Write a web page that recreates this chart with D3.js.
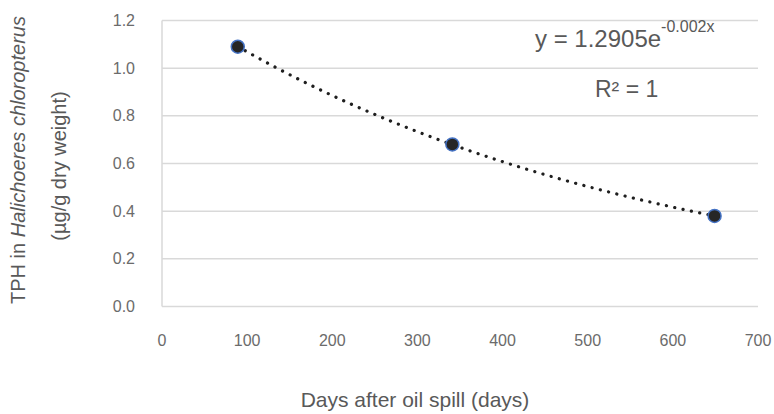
<!DOCTYPE html>
<meta charset="utf-8">
<head>
  <script src="https://d3js.org/d3.v7.min.js"></script>
</head>
<style>
  body { margin: 0; background: #fff; }
  text { font-family: "Liberation Sans", Arial, sans-serif; fill: #595959; }
  .tick-label { fill: #6b6b6b; font-size: 16px; }
  .grid line { stroke: #d9d9d9; stroke-width: 1.5; }
</style>
<body>
<script>
  // data
  var days = [89, 341, 649];
  var tph = [1.09, 0.68, 0.38];
  var xTicks = [0, 100, 200, 300, 400, 500, 600, 700];
  var yTicks = [0, 0.2, 0.4, 0.6, 0.8, 1.0, 1.2];
  var eqText = "y = 1.2905e";
  var eqExp = "-0.002x";
  var r2Text = "R\u00b2 = 1";

  var W = 774, H = 414;
  var svg = d3.select("body").append("svg")
    .attr("width", W).attr("height", H);

  var x = d3.scaleLinear().domain([0, 700]).range([162, 758]);
  var y = d3.scaleLinear().domain([0, 1.2]).range([306.5, 20.5]);

  // gridlines
  svg.append("g").attr("class", "grid")
    .selectAll("line").data(yTicks).enter().append("line")
    .attr("x1", x(0)).attr("x2", x(700))
    .attr("y1", function (d) { return y(d); })
    .attr("y2", function (d) { return y(d); });

  // left axis line
  svg.append("line")
    .attr("x1", x(0)).attr("x2", x(0))
    .attr("y1", y(0)).attr("y2", y(1.2))
    .attr("stroke", "#d9d9d9").attr("stroke-width", 1.5);

  // y tick labels
  svg.append("g").selectAll("text").data(yTicks).enter().append("text")
    .attr("class", "tick-label")
    .attr("x", 135).attr("y", function (d) { return y(d); })
    .attr("dy", "0.35em").attr("text-anchor", "end")
    .text(function (d) { return d3.format(".1f")(d); });

  // x tick labels
  svg.append("g").selectAll("text").data(xTicks).enter().append("text")
    .attr("class", "tick-label")
    .attr("x", function (d) { return x(d); }).attr("y", 340)
    .attr("dy", "0.35em").attr("text-anchor", "middle")
    .text(function (d) { return d; });

  // axis titles
  svg.append("text")
    .attr("x", 415).attr("y", 407)
    .attr("text-anchor", "middle")
    .style("font-size", "21px")
    .text("Days after oil spill (days)");

  var yt = svg.append("text")
    .attr("transform", "translate(25,160) rotate(-90)")
    .attr("text-anchor", "middle")
    .style("font-size", "20px");
  yt.append("tspan").text("TPH in ");
  yt.append("tspan").style("font-style", "italic").text("Halichoeres chloropterus");

  svg.append("text")
    .attr("transform", "translate(66,166) rotate(-90)")
    .attr("text-anchor", "middle")
    .style("font-size", "20px")
    .text("(\u00b5g/g dry weight)");

  // exponential trendline fitted from the points (least squares on ln y)
  var lx = days, ly = tph.map(Math.log);
  var mx = d3.mean(lx), my = d3.mean(ly);
  var b = d3.sum(lx, function (v, i) { return (v - mx) * (ly[i] - my); }) /
          d3.sum(lx, function (v) { return (v - mx) * (v - mx); });
  var a = Math.exp(my - b * mx);
  var xs = d3.range(d3.min(days), d3.max(days) + 1, 2);
  var line = d3.line()
    .x(function (d) { return x(d); })
    .y(function (d) { return y(a * Math.exp(b * d)); });
  svg.append("path")
    .datum(xs)
    .attr("d", line)
    .attr("fill", "none")
    .attr("stroke", "#1f1f1f")
    .attr("stroke-width", 3.2)
    .attr("stroke-linecap", "round")
    .attr("stroke-dasharray", "0.1 8.4");

  // markers
  svg.append("g").selectAll("circle").data(days).enter().append("circle")
    .attr("cx", function (d) { return x(d); })
    .attr("cy", function (d, i) { return y(tph[i]); })
    .attr("r", 6.5)
    .attr("fill", "#262626")
    .attr("stroke", "#4472c4")
    .attr("stroke-width", 1.5);

  // equation labels
  var eq = svg.append("text")
    .attr("x", 535).attr("y", 47)
    .style("font-size", "24px");
  eq.append("tspan").text(eqText);
  eq.append("tspan").attr("dy", -15).style("font-size", "16px").text(eqExp);

  svg.append("text")
    .attr("x", 595).attr("y", 97)
    .style("font-size", "23px")
    .text(r2Text);
</script>
</body>
